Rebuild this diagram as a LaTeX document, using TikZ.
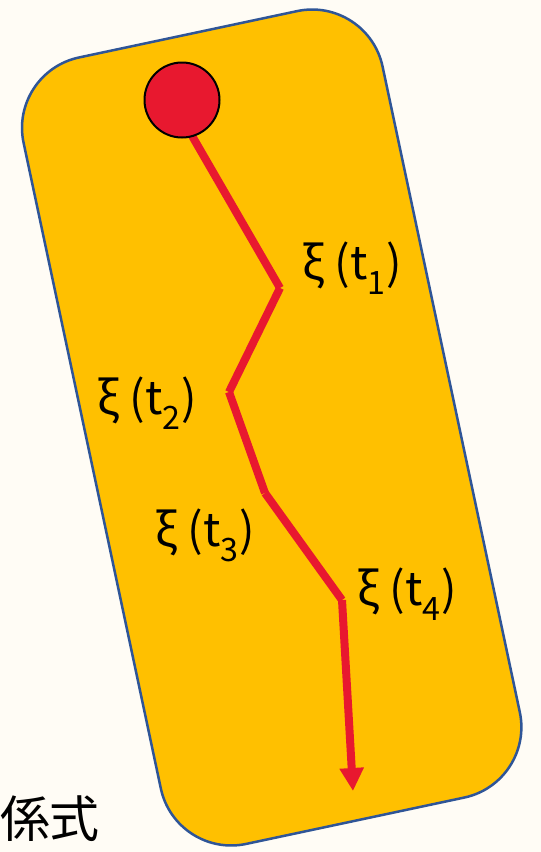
\documentclass[tikz,border=0pt]{standalone}
\usepackage{fontspec}
\setmainfont{Noto Sans CJK JP}
\usetikzlibrary{arrows.meta}
\definecolor{fond}{HTML}{FFFCF5}
\definecolor{carte}{HTML}{FFC000}
\definecolor{bord}{HTML}{2F5597}
\definecolor{rouge}{HTML}{E8182F}
\tikzset{
  etiq/.style={font=\fontsize{46}{54}\selectfont, inner sep=0pt},
  trajet/.style={rouge, line width=8pt},
}
\begin{document}
\begin{tikzpicture}[x=1pt,y=-1pt,>={Triangle[length=23pt,width=23pt]}]
  \useasboundingbox[fill=fond] (0,0) rectangle (541,852);
  % carte inclinée
  \def\W{183.5}
  \def\H{402}
  \begin{scope}[shift={(271.7,427.5)},rotate=12]
    \draw[fill=carte,draw=bord,line width=2.5pt,rounded corners=72pt] (-\W,-\H) rectangle (\W,\H);
  \end{scope}

  % points de la trajectoire
  \coordinate (p0) at (180,115);
  \coordinate (p1) at (280,288);
  \coordinate (p2) at (229,392);
  \coordinate (p3) at (265,493);
  \coordinate (p4) at (342,600);
  \coordinate (fin) at (353,791);

  % trajectoire
  \draw[trajet] (p0) -- (p1);
  \draw[trajet] (p1) -- (p2);
  \draw[trajet] (p2) -- (p3);
  \draw[trajet] (p3) -- (p4);
  \draw[trajet,->] (p4) -- (fin);

  % bille
  \node[circle,fill=rouge,draw=black,line width=2pt,minimum size=75pt,inner sep=0pt] (bille) at (182,100) {};

  % étiquettes
  \node[etiq] (xi1) at (352,268) {ξ (t\textsubscript{1})};
  \node[etiq] (xi2) at (147,403) {ξ (t\textsubscript{2})};
  \node[etiq] (xi3) at (205,535) {ξ (t\textsubscript{3})};
  \node[etiq] (xi4) at (407,594) {ξ (t\textsubscript{4})};
  \node[font=\fontsize{50}{60}\selectfont,inner sep=0pt] (titre) at (50,819) {係式};
\end{tikzpicture}
\end{document}
